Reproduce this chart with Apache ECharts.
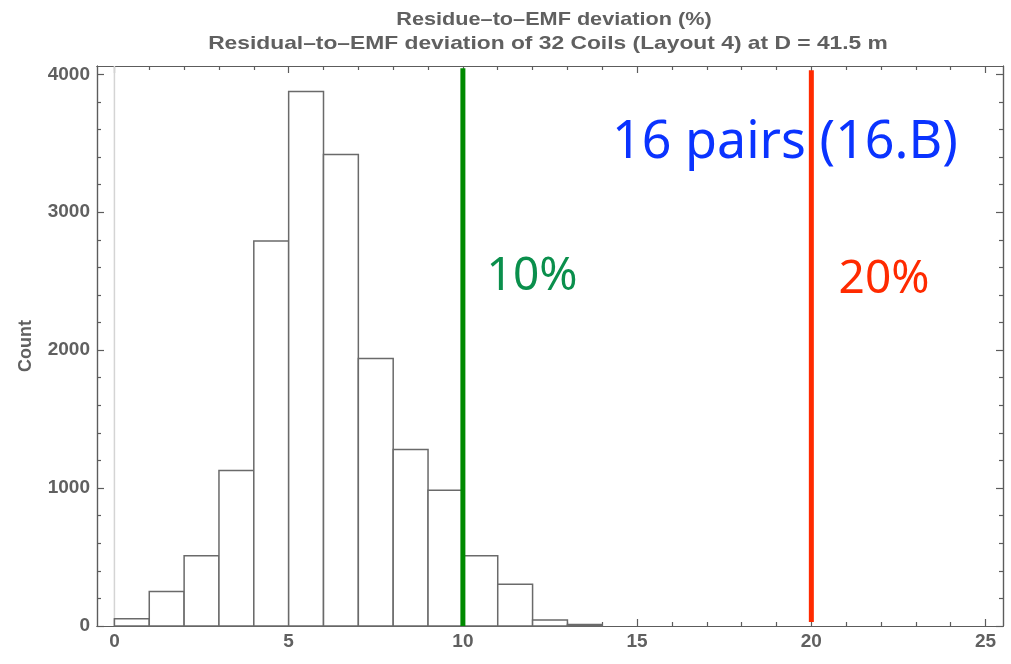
<!DOCTYPE html>
<html>
<head>
<meta charset="utf-8">
<script src="https://cdn.jsdelivr.net/npm/echarts@6/dist/echarts.min.js"></script>
<style>
  html, body { margin: 0; padding: 0; background: #fff; }
  #chart { width: 1011px; height: 664px; }
</style>
</head>
<body>
<div id="chart"></div>
<script>
// Histogram bins (left edges, width 1 %) and counts
const binStart = [0, 1, 2, 3, 4, 5, 6, 7, 8, 9, 10, 11, 12, 13];
const counts = [53, 251, 509, 1128, 2792, 3875, 3418, 1940, 1280, 985, 509, 302, 43, 10];

// Frame tick values
const xMajor = [0, 5, 10, 15, 20, 25];
const xMinor = [1, 2, 3, 4, 6, 7, 8, 9, 11, 12, 13, 14, 16, 17, 18, 19, 21, 22, 23, 24];
const yMajor = [0, 1000, 2000, 3000, 4000];
const yMinor = [200, 400, 600, 800, 1200, 1400, 1600, 1800, 2200, 2400, 2600, 2800, 3200, 3400, 3600, 3800];

// Threshold markers
const thresholds = [10, 20];

const titleLines = ['Residue–to–EMF deviation (%)', 'Residual–to–EMF deviation of 32 Coils (Layout 4) at D = 41.5 m'];

const chart = echarts.init(document.getElementById('chart'), null, { renderer: 'canvas' });

const frameColor = '#5c5c5c';
const labelColor = '#606060';
const labelFont = { color: labelColor, fontFamily: 'Liberation Sans, Arial, sans-serif', fontWeight: 'bold', fontSize: 19 };
const plain = v => String(v);

function xAx(position, values, len, withLabel) {
  return {
    type: 'value', position: position, min: -0.5, max: 25.5,
    axisLine: { show: true, onZero: false, lineStyle: { color: frameColor, width: 1.2 } },
    axisTick: { show: true, inside: true, length: len, customValues: values, lineStyle: { color: frameColor, width: 1.2 } },
    axisLabel: withLabel ? Object.assign({ show: true, margin: 6, customValues: values, formatter: plain }, labelFont) : { show: false },
    splitLine: { show: false }
  };
}
function yAx(position, values, len, withLabel) {
  const a = {
    type: 'value', position: position, min: 0, max: 4060,
    axisLine: { show: true, onZero: false, lineStyle: { color: frameColor, width: 1.2 } },
    axisTick: { show: true, inside: true, length: len, customValues: values, lineStyle: { color: frameColor, width: 1.2 } },
    axisLabel: withLabel ? Object.assign({ show: true, margin: 7, customValues: values, formatter: plain }, labelFont) : { show: false },
    splitLine: { show: false }
  };
  if (withLabel) {
    a.name = 'Count';
    a.nameLocation = 'middle';
    a.nameGap = 62;
    a.nameRotate = 90;
    a.nameTextStyle = Object.assign({}, labelFont, { fontSize: 18 });
  }
  return a;
}

const titleFont = 'bold 19px "Liberation Sans", Arial, sans-serif';

const option = {
  backgroundColor: '#fff',
  animation: false,
  grid: { left: 97, right: 8, top: 66, bottom: 38 },
  xAxis: [
    xAx('bottom', xMajor, 7, true),
    xAx('bottom', xMinor, 4, false),
    xAx('top', xMajor, 7, false),
    xAx('top', xMinor, 4, false)
  ],
  yAxis: [
    yAx('left', yMajor, 7, true),
    yAx('left', yMinor, 4, false),
    yAx('right', yMajor, 7, false),
    yAx('right', yMinor, 4, false)
  ],
  graphic: [
    {
      type: 'text', x: 554, y: 20, scaleX: 1.14, z: 10,
      style: { text: titleLines[0], x: 0, y: 0, align: 'center', verticalAlign: 'middle', fill: labelColor, font: titleFont }
    },
    {
      type: 'text', x: 548, y: 44, scaleX: 1.2, z: 10,
      style: { text: titleLines[1], x: 0, y: 0, align: 'center', verticalAlign: 'middle', fill: labelColor, font: titleFont }
    },
    {
      type: 'text', x: 785, y: 143, z: 10,
      style: { text: '16 pairs (16.B)', align: 'center', verticalAlign: 'middle', fill: '#0a33ff', font: '52px "Noto Sans", sans-serif' }
    },
    {
      type: 'text', x: 532, y: 277, z: 10,
      style: { text: '10%', align: 'center', verticalAlign: 'middle', fill: '#0a8f4c', font: '46px "Noto Sans", sans-serif' }
    },
    {
      type: 'text', x: 884, y: 280, z: 10,
      style: { text: '20%', align: 'center', verticalAlign: 'middle', fill: '#ff2a00', font: '46px "Noto Sans", sans-serif' }
    }
  ],
  series: [
    {
      // light vertical axis line at x = 0
      type: 'line', xAxisIndex: 0, yAxisIndex: 0, z: 1,
      data: [[0, 0], [0, 4060]], symbol: 'none', silent: true,
      lineStyle: { color: '#d4d4d4', width: 1.5 }
    },
    {
      type: 'custom', xAxisIndex: 0, yAxisIndex: 0, z: 2,
      data: binStart.map((b, i) => [b, b + 1, counts[i]]),
      encode: { x: [0, 1], y: 2 },
      renderItem: function (params, api) {
        const p0 = api.coord([api.value(0), api.value(2)]);
        const p1 = api.coord([api.value(1), 0]);
        return {
          type: 'rect',
          shape: { x: p0[0], y: p0[1], width: p1[0] - p0[0], height: p1[1] - p0[1] },
          style: { fill: '#ffffff', stroke: '#6a6a6a', lineWidth: 1.5 }
        };
      }
    },
    {
      type: 'line', xAxisIndex: 0, yAxisIndex: 0, z: 5,
      data: [[thresholds[0], 0], [thresholds[0], 4043]], symbol: 'none', silent: true,
      lineStyle: { color: '#008a00', width: 5, cap: 'butt' }
    },
    {
      type: 'line', xAxisIndex: 0, yAxisIndex: 0, z: 5,
      data: [[thresholds[1], 29], [thresholds[1], 4029]], symbol: 'none', silent: true,
      lineStyle: { color: '#ff2a00', width: 5, cap: 'butt' }
    }
  ]
};

chart.setOption(option);
</script>
</body>
</html>
